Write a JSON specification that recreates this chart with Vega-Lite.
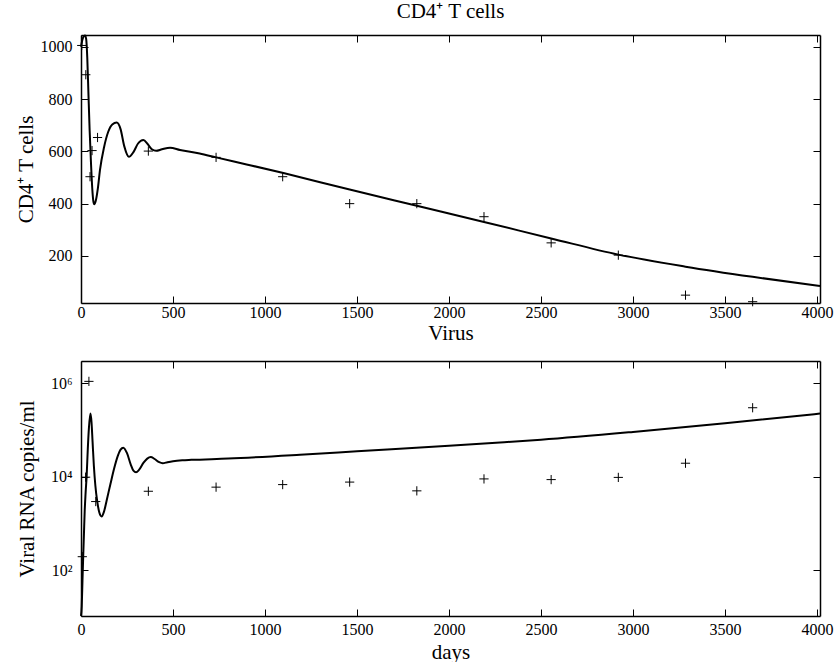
{
  "$schema": "https://vega.github.io/schema/vega-lite/v6.json",
  "background": "white",
  "padding": {"left": 15, "top": 0, "right": 8, "bottom": 0},
  "spacing": 17,
  "config": {
    "font": "Liberation Serif",
    "view": {"stroke": null},
    "axis": {
      "grid": false,
      "domainColor": "black",
      "domainWidth": 1.5,
      "tickColor": "black",
      "tickSize": -7,
      "tickWidth": 1,
      "labelFont": "Liberation Serif",
      "labelFontSize": 16,
      "labelColor": "black",
      "labelPadding": 15,
      "labelFlush": false,
      "labelOverlap": false,
      "format": "d",
      "titleFont": "Liberation Serif",
      "titleFontSize": 21,
      "titleFontWeight": "normal",
      "titleColor": "black"
    },
    "title": {"font": "Liberation Serif", "fontSize": 21, "fontWeight": "normal", "color": "black", "baseline": "alphabetic", "offset": 10, "anchor": "middle"}
  },
  "datasets": {
    "top_curve": [
      {"t": 0, "v": 1000}, {"t": 8, "v": 1028}, {"t": 16, "v": 1041}, {"t": 22, "v": 1043}, {"t": 28, "v": 1030},
      {"t": 34, "v": 960}, {"t": 40, "v": 830}, {"t": 47, "v": 680}, {"t": 54, "v": 560}, {"t": 61, "v": 460},
      {"t": 67, "v": 410}, {"t": 72, "v": 398}, {"t": 80, "v": 410}, {"t": 92, "v": 460}, {"t": 103, "v": 528},
      {"t": 125, "v": 615}, {"t": 148, "v": 675}, {"t": 170, "v": 703}, {"t": 194, "v": 710}, {"t": 215, "v": 685},
      {"t": 235, "v": 620}, {"t": 260, "v": 579}, {"t": 285, "v": 597}, {"t": 310, "v": 630}, {"t": 339, "v": 643},
      {"t": 362, "v": 628}, {"t": 385, "v": 608}, {"t": 408, "v": 602}, {"t": 440, "v": 608}, {"t": 484, "v": 614},
      {"t": 538, "v": 605}, {"t": 645, "v": 592}, {"t": 734, "v": 577}, {"t": 900, "v": 550}, {"t": 1100, "v": 517},
      {"t": 1460, "v": 454}, {"t": 1825, "v": 392}, {"t": 2190, "v": 330}, {"t": 2555, "v": 267}, {"t": 2920, "v": 205},
      {"t": 3285, "v": 159}, {"t": 3650, "v": 120}, {"t": 4016, "v": 85}
    ],
    "top_pts": [
      {"t": 4, "v": 1005}, {"t": 26, "v": 893}, {"t": 49, "v": 503}, {"t": 60, "v": 603}, {"t": 90, "v": 653},
      {"t": 366, "v": 601}, {"t": 734, "v": 577}, {"t": 1096, "v": 503}, {"t": 1460, "v": 400}, {"t": 1825, "v": 400},
      {"t": 2190, "v": 350}, {"t": 2555, "v": 250}, {"t": 2920, "v": 203}, {"t": 3285, "v": 50}, {"t": 3650, "v": 25}
    ],
    "bot_curve": [
      {"t": 0, "v": 10.5}, {"t": 4, "v": 17}, {"t": 8, "v": 60}, {"t": 12, "v": 200}, {"t": 16, "v": 600},
      {"t": 20, "v": 1800}, {"t": 25, "v": 4500}, {"t": 31, "v": 11000}, {"t": 37, "v": 40000}, {"t": 43, "v": 110000},
      {"t": 51, "v": 225000}, {"t": 57, "v": 150000}, {"t": 63, "v": 55000}, {"t": 70, "v": 17000}, {"t": 78, "v": 6500},
      {"t": 88, "v": 3000}, {"t": 100, "v": 1700}, {"t": 112, "v": 1420}, {"t": 125, "v": 1800}, {"t": 140, "v": 3200},
      {"t": 160, "v": 7000}, {"t": 180, "v": 15000}, {"t": 200, "v": 28000}, {"t": 215, "v": 38000}, {"t": 230, "v": 42000},
      {"t": 250, "v": 32000}, {"t": 270, "v": 18500}, {"t": 285, "v": 13500}, {"t": 299, "v": 12500}, {"t": 315, "v": 14000},
      {"t": 340, "v": 20000}, {"t": 360, "v": 24500}, {"t": 379, "v": 26500}, {"t": 400, "v": 24000}, {"t": 425, "v": 20500},
      {"t": 444, "v": 19500}, {"t": 470, "v": 20500}, {"t": 500, "v": 21500}, {"t": 550, "v": 22500}, {"t": 600, "v": 23000},
      {"t": 800, "v": 24500}, {"t": 1190, "v": 29500}, {"t": 1500, "v": 35000}, {"t": 2000, "v": 46000}, {"t": 2277, "v": 54000},
      {"t": 2500, "v": 62000}, {"t": 3000, "v": 91000}, {"t": 3500, "v": 140000}, {"t": 4016, "v": 225000}
    ],
    "bot_pts": [
      {"t": 7, "v": 195}, {"t": 25, "v": 9800}, {"t": 43, "v": 1100000}, {"t": 80, "v": 2950}, {"t": 366, "v": 4900},
      {"t": 734, "v": 6000}, {"t": 1096, "v": 6800}, {"t": 1460, "v": 7700}, {"t": 1825, "v": 5000}, {"t": 2190, "v": 9000},
      {"t": 2555, "v": 8700}, {"t": 2920, "v": 9700}, {"t": 3285, "v": 19500}, {"t": 3650, "v": 300000}
    ]
  },
  "vconcat": [
    {
      "title": "CD4⁺ T cells",
      "width": 739,
      "height": 268,
      "resolve": {"axis": {"x": "independent", "y": "independent"}},
      "layer": [
        {
          "data": {"name": "top_curve"},
          "mark": {"type": "line", "color": "black", "strokeWidth": 2, "interpolate": "monotone"},
          "encoding": {
            "x": {"field": "t", "type": "quantitative", "scale": {"domain": [0, 4016], "nice": false, "zero": false},
                  "axis": {"orient": "bottom", "values": [0, 500, 1000, 1500, 2000, 2500, 3000, 3500, 4000], "title": "Virus", "labelPadding": 8, "titlePadding": 2}},
            "y": {"field": "v", "type": "quantitative", "scale": {"domain": [20, 1045], "nice": false, "zero": false},
                  "axis": {"orient": "left", "values": [200, 400, 600, 800, 1000], "title": "CD4⁺ T cells", "titlePadding": 4, "labelPadding": 16}}
          }
        },
        {
          "data": {"name": "top_pts"},
          "mark": {"type": "point", "shape": "M-1,0L1,0M0,-1L0,1", "size": 85, "filled": false, "stroke": "black", "strokeWidth": 1, "opacity": 1},
          "encoding": {
            "x": {"field": "t", "type": "quantitative", "scale": {"domain": [0, 4016], "nice": false, "zero": false},
                  "axis": {"orient": "top", "values": [0, 500, 1000, 1500, 2000, 2500, 3000, 3500, 4000], "labels": false, "title": null}},
            "y": {"field": "v", "type": "quantitative", "scale": {"domain": [20, 1045], "nice": false, "zero": false},
                  "axis": {"orient": "right", "values": [200, 400, 600, 800, 1000], "labels": false, "title": null}}
          }
        }
      ]
    },
    {
      "width": 739,
      "height": 255,
      "resolve": {"axis": {"x": "independent", "y": "independent"}},
      "layer": [
        {
          "data": {"name": "bot_curve"},
          "mark": {"type": "line", "color": "black", "strokeWidth": 2, "interpolate": "monotone"},
          "encoding": {
            "x": {"field": "t", "type": "quantitative", "scale": {"domain": [0, 4016], "nice": false, "zero": false},
                  "axis": {"orient": "bottom", "values": [0, 500, 1000, 1500, 2000, 2500, 3000, 3500, 4000], "title": "days", "labelPadding": 12, "titlePadding": 4}},
            "y": {"field": "v", "type": "quantitative", "scale": {"type": "log", "domain": [10.5, 3000000], "nice": false},
                  "axis": {"orient": "left", "values": [100, 10000, 1000000], "labelExpr": "datum.value == 100 ? '10²' : datum.value == 10000 ? '10⁴' : '10⁶'", "title": "Viral RNA copies/ml", "titlePadding": 13, "labelPadding": 16}}
          }
        },
        {
          "data": {"name": "bot_pts"},
          "mark": {"type": "point", "shape": "M-1,0L1,0M0,-1L0,1", "size": 85, "filled": false, "stroke": "black", "strokeWidth": 1, "opacity": 1},
          "encoding": {
            "x": {"field": "t", "type": "quantitative", "scale": {"domain": [0, 4016], "nice": false, "zero": false},
                  "axis": {"orient": "top", "values": [0, 500, 1000, 1500, 2000, 2500, 3000, 3500, 4000], "labels": false, "title": null}},
            "y": {"field": "v", "type": "quantitative", "scale": {"type": "log", "domain": [10.5, 3000000], "nice": false},
                  "axis": {"orient": "right", "values": [100, 10000, 1000000], "labels": false, "title": null}}
          }
        }
      ]
    }
  ]
}
